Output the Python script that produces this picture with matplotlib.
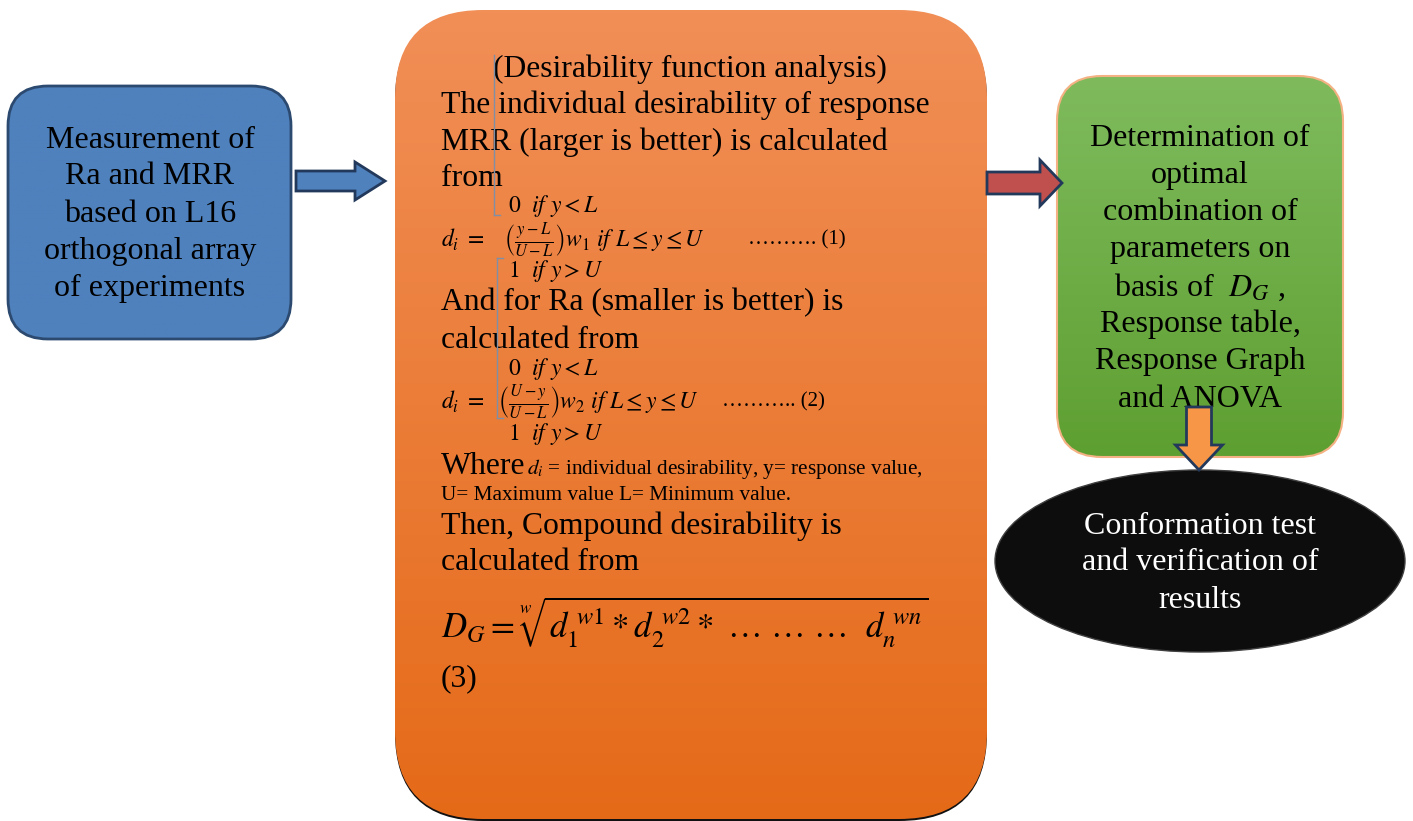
import numpy as np
import matplotlib.pyplot as plt
from matplotlib.patches import FancyBboxPatch, Polygon, Ellipse

plt.rcParams['font.family'] = ['Liberation Serif', 'DejaVu Serif']
plt.rcParams['mathtext.fontset'] = 'stix'

# box texts
measure_lines = ['Measurement of', 'Ra and MRR', 'based on L16', 'orthogonal array', 'of experiments']
optimal_lines = ['Determination of', 'optimal', 'combination of', 'parameters on',
                 r'basis of  $D_G$ ,', 'Response table,', 'Response Graph', 'and ANOVA']
confirm_lines = ['Conformation test', 'and verification of', 'results']

# text of the desirability box: (x, y, text, size, align)
desir_text = [
    (690, 69, '(Desirability function analysis)', 22.8, 'center'),
    (441, 105, 'The individual desirability of response', 22.8, 'left'),
    (441, 142, 'MRR (larger is better) is calculated', 22.8, 'left'),
    (441, 178, 'from', 22.8, 'left'),
    (441, 303, 'And for Ra (smaller is better) is', 22.8, 'left'),
    (441, 340, 'calculated from', 22.8, 'left'),
    (441, 526, 'Then, Compound desirability is', 22.8, 'left'),
    (441, 563, 'calculated from', 22.8, 'left'),
    (441, 679, '(3)', 22.8, 'left'),
]
eq_text = [
    (508, 206, r'$0\ \ if\ y < L$', 17),
    (441, 240, r'$d_i\ =\ \ \ \left(\frac{y-L}{U-L}\right)w_1\ if\ L \leq y \leq U$', 17),
    (508, 271, r'$1\ \ if\ y > U$', 17),
    (508, 369, r'$0\ \ if\ y < L$', 17),
    (441, 402, r'$d_i\ =\ \ \left(\frac{U-y}{U-L}\right)w_2\ if\ L \leq y \leq U$', 17),
    (508, 434, r'$1\ \ if\ y > U$', 17),
]

fig = plt.figure(figsize=(14.13, 8.21), dpi=100)
ax = fig.add_axes([0, 0, 1, 1])
ax.set_xlim(0, 1413)
ax.set_ylim(821, 0)
ax.axis('off')


def gradient_box(x0, y0, x1, y1, rad, top, bottom, edge, lw=1.5):
    box = FancyBboxPatch((x0, y0), x1 - x0, y1 - y0,
                         boxstyle=f'round,pad=0,rounding_size={rad}',
                         facecolor='none', edgecolor=edge, lw=lw, zorder=3)
    ax.add_patch(box)
    t = np.linspace(0, 1, 256)[:, None]
    c0 = np.array(plt.matplotlib.colors.to_rgb(top))
    c1 = np.array(plt.matplotlib.colors.to_rgb(bottom))
    img = c0[None, None, :] * (1 - t[..., None]) + c1[None, None, :] * t[..., None]
    im = ax.imshow(img, extent=(x0, x1, y1, y0), aspect='auto', zorder=2)
    im.set_clip_path(box)
    return box


def h_arrow(x0, x1, yc, shaft, head, head_len, face):
    pts = [(x0, yc - shaft / 2), (x1 - head_len, yc - shaft / 2), (x1 - head_len, yc - head / 2),
           (x1, yc), (x1 - head_len, yc + head / 2), (x1 - head_len, yc + shaft / 2),
           (x0, yc + shaft / 2)]
    ax.add_patch(Polygon(pts, closed=True, facecolor=face, edgecolor='#23395b', lw=2, zorder=4))


def v_arrow(xc, y0, y1, shaft, head, head_len, face):
    pts = [(xc - shaft / 2, y0), (xc + shaft / 2, y0), (xc + shaft / 2, y1 - head_len),
           (xc + head / 2, y1 - head_len), (xc, y1), (xc - head / 2, y1 - head_len),
           (xc - shaft / 2, y1 - head_len)]
    ax.add_patch(Polygon(pts, closed=True, facecolor=face, edgecolor='#23395b', lw=2, zorder=6))


# left blue box
gradient_box(8, 86, 291, 339, 40, '#4f81bd', '#4f81bd', '#2c4a70', lw=2)
for i, s in enumerate(measure_lines):
    ax.text(150, 140 + i * 37, s, fontsize=23, ha='center', va='center', zorder=5)

h_arrow(296, 385, 181, 20, 38, 30, '#4f81bd')

# orange desirability box, with a thin dark shadow underneath
ax.add_patch(FancyBboxPatch((395, 12), 592, 809, boxstyle='round,pad=0,rounding_size=88',
                            facecolor='#111111', edgecolor='none', zorder=1))
gradient_box(395, 10, 987, 819, 88, '#f18f57', '#e56a18', 'none', lw=0)
for x, y, s, fs, ha in desir_text:
    ax.text(x, y, s, fontsize=fs, ha=ha, va='center', zorder=5)
for x, y, s, fs in eq_text:
    ax.text(x, y, s, fontsize=fs, ha='left', va='center', zorder=5)
ax.text(748, 240, '………. (1)', fontsize=15, ha='left', va='center', zorder=5)
ax.text(722, 402, '……….. (2)', fontsize=15, ha='left', va='center', zorder=5)
ax.text(441, 467, 'Where', fontsize=22.8, ha='left', va='center', zorder=5)
ax.text(527, 469, r'$d_i$ = individual desirability, y= response value,', fontsize=15.3,
        ha='left', va='center', zorder=5)
ax.text(441, 495, 'U= Maximum value L= Minimum value.', fontsize=15.3, ha='left', va='center', zorder=5)
ax.text(441, 622, r'$D_G = \sqrt[w]{d_1^{\ w1} * d_2^{\ w2} * \ \ldots\ \ldots\ \ldots\ \ d_n^{\ wn}}$',
        fontsize=25, ha='left', va='center', zorder=5)
# thin bracket lines
ax.plot([494, 494], [55, 215], color='#7f8fa6', lw=1, zorder=5)
ax.plot([494, 500], [215, 215], color='#7f8fa6', lw=1, zorder=5)
ax.plot([497, 497], [258, 350], color='#7f8fa6', lw=1, zorder=5)
ax.plot([497, 503], [258, 258], color='#7f8fa6', lw=1, zorder=5)
ax.plot([497, 497], [350, 418], color='#7f8fa6', lw=1, zorder=5)
ax.plot([497, 503], [418, 418], color='#7f8fa6', lw=1, zorder=5)

h_arrow(987, 1062, 183, 22, 46, 22, '#c0504d')

# green box
gradient_box(1057, 76, 1343, 457, 45, '#7fbb5d', '#5e9f31', '#f4b183', lw=1.5)
for i, s in enumerate(optimal_lines):
    ax.text(1200, 138 + i * 37.3, s, fontsize=23, ha='center', va='center', zorder=5)

# black ellipse
ax.add_patch(Ellipse((1200, 561), 410, 182, facecolor='#0d0d0d', edgecolor='#404040', lw=1, zorder=3))
for i, s in enumerate(confirm_lines):
    ax.text(1200, 526 + i * 37, s, fontsize=23, color='white', ha='center', va='center', zorder=5)

v_arrow(1199, 407, 470, 25, 47, 25, '#f79646')

fig.savefig('out.png', dpi=100)
